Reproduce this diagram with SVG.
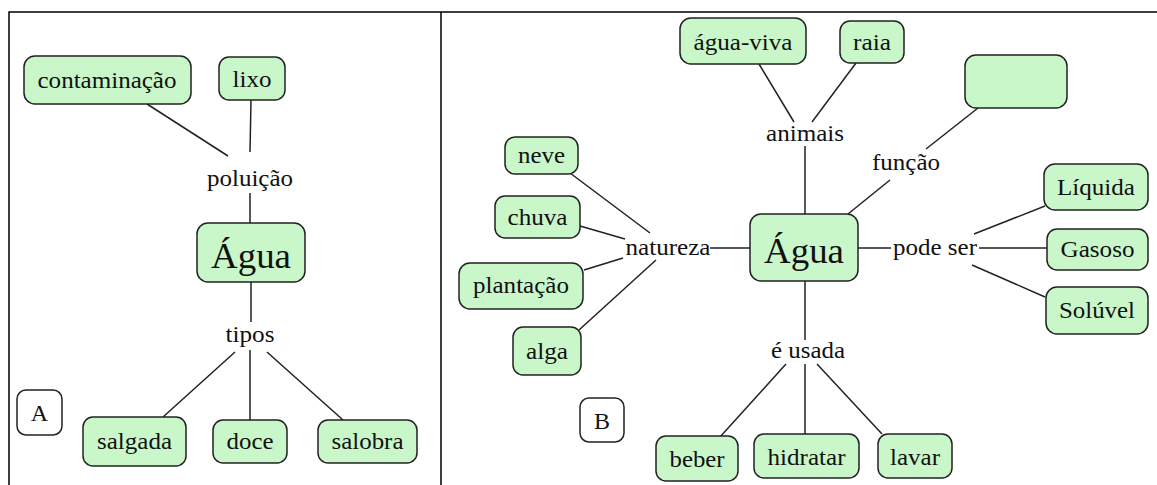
<svg xmlns="http://www.w3.org/2000/svg" width="1157" height="485" viewBox="0 0 1157 485" font-family="Liberation Serif, Times New Roman, Times, serif">
<style>
.n{fill:#c9f7c9;stroke:#222;stroke-width:1.5}
.w{fill:#fff;stroke:#222;stroke-width:1.5}
text{font-family:"Liberation Serif","Times New Roman",Times,serif;font-size:24px;fill:#111;text-anchor:middle}
.big{font-size:36px}
.c line{stroke:#222;stroke-width:1.5}
.f{stroke:#000;stroke-width:1.5;fill:none}
</style>
<rect width="1157" height="485" fill="#fff"/>
<path class="f" d="M9,485 V12 H1157 M441,12 V485"/>
<g class="c">
<line x1="147" y1="104" x2="228" y2="156"/>
<line x1="251" y1="100" x2="250" y2="152"/>
<line x1="250" y1="193" x2="250" y2="223"/>
<line x1="251" y1="282" x2="251" y2="322"/>
<line x1="235" y1="352" x2="163" y2="417"/>
<line x1="250" y1="350" x2="250" y2="420"/>
<line x1="267" y1="352" x2="343" y2="420"/>
<line x1="759" y1="64" x2="794" y2="122"/>
<line x1="856" y1="63" x2="812" y2="122"/>
<line x1="805" y1="146" x2="805" y2="214"/>
<line x1="978" y1="108" x2="926" y2="149"/>
<line x1="890" y1="180" x2="848" y2="214"/>
<line x1="570" y1="173" x2="650" y2="233"/>
<line x1="580" y1="226" x2="625" y2="239"/>
<line x1="584" y1="270" x2="623" y2="258"/>
<line x1="579" y1="330" x2="656" y2="260"/>
<line x1="710" y1="248" x2="750" y2="248"/>
<line x1="858" y1="248" x2="891" y2="248"/>
<line x1="979" y1="248" x2="1047" y2="248"/>
<line x1="974" y1="234" x2="1045" y2="206"/>
<line x1="972" y1="265" x2="1045" y2="297"/>
<line x1="805" y1="281" x2="805" y2="340"/>
<line x1="786" y1="364" x2="720" y2="437"/>
<line x1="805" y1="364" x2="805" y2="434"/>
<line x1="817" y1="364" x2="882" y2="434"/>
</g>
<g id="contaminacao"><rect class="n" x="24" y="56" width="167" height="48" rx="11"/><text x="107" y="88" textLength="139" lengthAdjust="spacingAndGlyphs">contaminação</text></g>
<g id="lixo"><rect class="n" x="219" y="57" width="66" height="43" rx="10"/><text x="252" y="87" textLength="39" lengthAdjust="spacingAndGlyphs">lixo</text></g>
<g id="poluicao"><text x="250" y="186" textLength="86" lengthAdjust="spacingAndGlyphs">poluição</text></g>
<g id="agua-a"><rect class="n" x="197" y="223" width="108" height="59" rx="11"/><text class="big" x="251" y="268" textLength="80" lengthAdjust="spacingAndGlyphs">Água</text></g>
<g id="tipos"><text x="250" y="342" textLength="49" lengthAdjust="spacingAndGlyphs">tipos</text></g>
<g id="salgada"><rect class="n" x="83" y="417" width="103" height="49" rx="10"/><text x="134.5" y="449" textLength="75" lengthAdjust="spacingAndGlyphs">salgada</text></g>
<g id="doce"><rect class="n" x="213" y="420" width="74" height="43" rx="10"/><text x="250" y="449" textLength="47" lengthAdjust="spacingAndGlyphs">doce</text></g>
<g id="salobra"><rect class="n" x="318" y="420" width="99" height="43" rx="10"/><text x="367.5" y="449" textLength="72" lengthAdjust="spacingAndGlyphs">salobra</text></g>
<g id="label-a"><rect class="w" x="17" y="390" width="45" height="45" rx="9"/><text x="39.5" y="421">A</text></g>
<g id="agua-viva"><rect class="n" x="680" y="18" width="126" height="46" rx="11"/><text x="743" y="50" textLength="99" lengthAdjust="spacingAndGlyphs">água-viva</text></g>
<g id="raia"><rect class="n" x="840" y="21" width="64" height="42" rx="10"/><text x="872" y="50" textLength="38" lengthAdjust="spacingAndGlyphs">raia</text></g>
<g id="blank"><rect class="n" x="965" y="55" width="102" height="53" rx="11"/></g>
<g id="animais"><text x="805" y="141" textLength="78" lengthAdjust="spacingAndGlyphs">animais</text></g>
<g id="funcao"><text x="906" y="170" textLength="68" lengthAdjust="spacingAndGlyphs">função</text></g>
<g id="neve"><rect class="n" x="505" y="137" width="73" height="37" rx="10"/><text x="541.5" y="163" textLength="47" lengthAdjust="spacingAndGlyphs">neve</text></g>
<g id="chuva"><rect class="n" x="495" y="196" width="85" height="42" rx="10"/><text x="537.5" y="225" textLength="60" lengthAdjust="spacingAndGlyphs">chuva</text></g>
<g id="plantacao"><rect class="n" x="459" y="263" width="124" height="46" rx="11"/><text x="521" y="293" textLength="96" lengthAdjust="spacingAndGlyphs">plantação</text></g>
<g id="alga"><rect class="n" x="513" y="327" width="68" height="48" rx="10"/><text x="547" y="359" textLength="42" lengthAdjust="spacingAndGlyphs">alga</text></g>
<g id="natureza"><text x="668" y="255" textLength="85" lengthAdjust="spacingAndGlyphs">natureza</text></g>
<g id="agua-b"><rect class="n" x="750" y="214" width="108" height="67" rx="11"/><text class="big" x="804" y="263" textLength="80" lengthAdjust="spacingAndGlyphs">Água</text></g>
<g id="pode-ser"><text x="935" y="255" textLength="84" lengthAdjust="spacingAndGlyphs">pode ser</text></g>
<g id="liquida"><rect class="n" x="1044" y="164" width="104" height="46" rx="11"/><text x="1096" y="195" textLength="78" lengthAdjust="spacingAndGlyphs">Líquida</text></g>
<g id="gasoso"><rect class="n" x="1047" y="229" width="101" height="41" rx="10"/><text x="1097.5" y="257" textLength="74" lengthAdjust="spacingAndGlyphs">Gasoso</text></g>
<g id="soluvel"><rect class="n" x="1046" y="287" width="102" height="47" rx="11"/><text x="1097" y="318" textLength="76" lengthAdjust="spacingAndGlyphs">Solúvel</text></g>
<g id="e-usada"><text x="808" y="358" textLength="74" lengthAdjust="spacingAndGlyphs">é usada</text></g>
<g id="label-b"><rect class="w" x="580" y="398" width="44" height="44" rx="9"/><text x="602" y="429">B</text></g>
<g id="beber"><rect class="n" x="656" y="436" width="82" height="45" rx="10"/><text x="697" y="467" textLength="55" lengthAdjust="spacingAndGlyphs">beber</text></g>
<g id="hidratar"><rect class="n" x="754" y="434" width="105" height="44" rx="10"/><text x="806.5" y="465" textLength="78" lengthAdjust="spacingAndGlyphs">hidratar</text></g>
<g id="lavar"><rect class="n" x="878" y="434" width="74" height="44" rx="10"/><text x="915" y="465" textLength="50" lengthAdjust="spacingAndGlyphs">lavar</text></g>
</svg>
